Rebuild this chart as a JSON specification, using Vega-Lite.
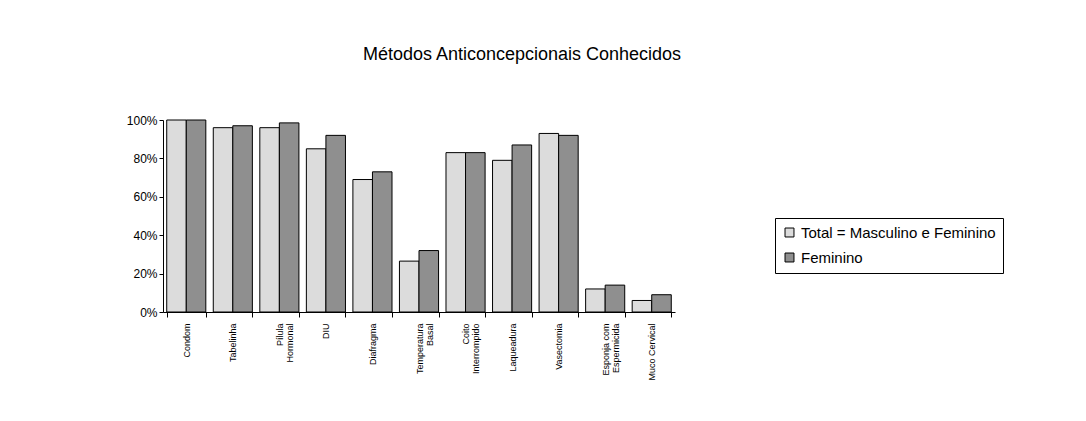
{
  "$schema": "https://vega.github.io/schema/vega-lite/v6.json",
  "width": 512,
  "height": 192,
  "autosize": {"type": "none"},
  "padding": {"left": 163, "top": 120, "right": 411, "bottom": 109},
  "background": "white",
  "title": {
    "text": "Métodos Anticoncepcionais Conhecidos",
    "font": "Liberation Sans",
    "fontSize": 18,
    "fontWeight": "normal",
    "color": "black",
    "anchor": "middle",
    "dx": 103,
    "offset": 50
  },
  "data": {
    "values": [
      {"metodo": "Condom", "grupo": "Total = Masculino e Feminino", "valor": 1.0},
      {"metodo": "Condom", "grupo": "Feminino", "valor": 1.0},
      {"metodo": "Tabelinha", "grupo": "Total = Masculino e Feminino", "valor": 0.96},
      {"metodo": "Tabelinha", "grupo": "Feminino", "valor": 0.97},
      {"metodo": "Pílula Hormonal", "grupo": "Total = Masculino e Feminino", "valor": 0.96},
      {"metodo": "Pílula Hormonal", "grupo": "Feminino", "valor": 0.985},
      {"metodo": "DIU", "grupo": "Total = Masculino e Feminino", "valor": 0.85},
      {"metodo": "DIU", "grupo": "Feminino", "valor": 0.92},
      {"metodo": "Diafragma", "grupo": "Total = Masculino e Feminino", "valor": 0.69},
      {"metodo": "Diafragma", "grupo": "Feminino", "valor": 0.73},
      {"metodo": "Temperatura Basal", "grupo": "Total = Masculino e Feminino", "valor": 0.265},
      {"metodo": "Temperatura Basal", "grupo": "Feminino", "valor": 0.32},
      {"metodo": "Coito Interrompido", "grupo": "Total = Masculino e Feminino", "valor": 0.83},
      {"metodo": "Coito Interrompido", "grupo": "Feminino", "valor": 0.83},
      {"metodo": "Laqueadura", "grupo": "Total = Masculino e Feminino", "valor": 0.79},
      {"metodo": "Laqueadura", "grupo": "Feminino", "valor": 0.87},
      {"metodo": "Vasectomia", "grupo": "Total = Masculino e Feminino", "valor": 0.93},
      {"metodo": "Vasectomia", "grupo": "Feminino", "valor": 0.92},
      {"metodo": "Esponja com Espermicida", "grupo": "Total = Masculino e Feminino", "valor": 0.12},
      {"metodo": "Esponja com Espermicida", "grupo": "Feminino", "valor": 0.14},
      {"metodo": "Muco Cervical", "grupo": "Total = Masculino e Feminino", "valor": 0.06},
      {"metodo": "Muco Cervical", "grupo": "Feminino", "valor": 0.09}
    ]
  },
  "mark": {"type": "bar", "stroke": "black", "strokeWidth": 1},
  "encoding": {
    "x": {
      "field": "metodo",
      "type": "nominal",
      "sort": null,
      "scale": {"paddingInner": 0.16, "paddingOuter": 0.08},
      "axis": {
        "title": null,
        "labelAngle": -90,
        "labelAlign": "right",
        "labelBaseline": "middle",
        "labelFont": "Liberation Sans",
        "labelFontSize": 9,
        "labelColor": "black",
        "labelLineHeight": 10,
        "labelPadding": 6,
        "tickBand": "extent",
        "tickColor": "black",
        "tickSize": 5,
        "domainColor": "black",
        "labelExpr": "datum.value == 'Pílula Hormonal' ? ['Pílula', 'Hormonal'] : datum.value == 'Temperatura Basal' ? ['Temperatura', 'Basal'] : datum.value == 'Coito Interrompido' ? ['Coito', 'Interrompido'] : datum.value == 'Esponja com Espermicida' ? ['Esponja com', 'Espermicida'] : datum.value"
      }
    },
    "xOffset": {"field": "grupo", "type": "nominal", "sort": ["Total = Masculino e Feminino", "Feminino"]},
    "y": {
      "field": "valor",
      "type": "quantitative",
      "scale": {"domain": [0, 1]},
      "axis": {
        "title": null,
        "format": ".0%",
        "values": [0, 0.2, 0.4, 0.6, 0.8, 1],
        "grid": false,
        "labelFont": "Liberation Sans",
        "labelFontSize": 12,
        "labelColor": "black",
        "tickColor": "black",
        "tickSize": 4,
        "domainColor": "black"
      }
    },
    "fill": {
      "field": "grupo",
      "type": "nominal",
      "sort": ["Total = Masculino e Feminino", "Feminino"],
      "scale": {"domain": ["Total = Masculino e Feminino", "Feminino"], "range": ["#dcdcdc", "#8f8f8f"]},
      "legend": {
        "title": null,
        "orient": "none",
        "legendX": 612,
        "legendY": 98,
        "direction": "vertical",
        "strokeColor": "black",
        "padding": 7,
        "symbolType": "square",
        "symbolSize": 80,
        "symbolStrokeColor": "black",
        "symbolStrokeWidth": 1,
        "labelFont": "Liberation Sans",
        "labelFontSize": 15,
        "labelColor": "black",
        "rowPadding": 9,
        "labelLimit": 300
      }
    }
  },
  "config": {"view": {"stroke": null}}
}
